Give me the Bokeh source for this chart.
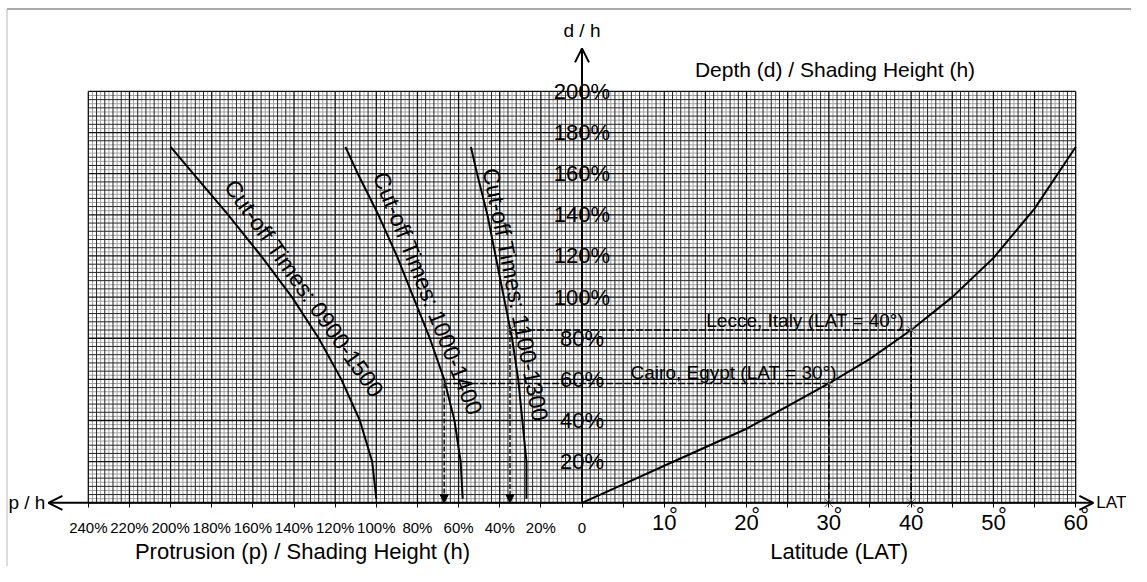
import numpy as np
from bokeh.plotting import figure
from bokeh.models import LinearAxis, FixedTicker, Arrow, OpenHead, NormalHead
from bokeh.core.properties import value
from bokeh.embed import file_html
from bokeh.resources import INLINE

# ---------------- data ----------------
lat_deg = [0, 5, 10, 15, 20, 25, 30, 35, 40, 45, 50, 55, 60]
lat_dh = [0, 9, 18, 27, 36, 47, 58, 70, 84, 100, 119, 143, 173]          # d/h in %

cut_dh = [2, 20, 40, 60, 80, 100, 120, 140, 160, 173]                   # d/h in %
cut_0900_1500 = [100, 102, 108, 117, 128, 141, 156, 172, 189, 200]      # p/h in %
cut_1000_1400 = [58, 59, 62, 67, 74, 82, 90, 99, 109, 115]
cut_1100_1300 = [27, 27, 29, 31, 34, 38, 42, 46, 51, 54]
cut_names = ["Cut-off Times: 0900-1500", "Cut-off Times: 1000-1400", "Cut-off Times: 1100-1300"]

ph_ticks = [240, 220, 200, 180, 160, 140, 120, 100, 80, 60, 40, 20, 0]
ph_labels = ["240%", "220%", "200%", "180%", "160%", "140%", "120%", "100%",
             "80%", "60%", "40%", "20%", "0"]
dh_ticks = [20, 40, 60, 80, 100, 120, 140, 160, 180, 200]
dh_labels = ["20%", "40%", "60%", "80%", "100%", "120%", "140%", "160%", "180%", "200%"]
lat_ticks = [5, 10, 15, 20, 25, 30, 35, 40, 45, 50, 55, 60]
lat_labels = ["", "10", "", "20", "", "30", "", "40", "", "50", "", "60"]

cities = ["Lecce, Italy (LAT = 40°)", "Cairo, Egypt (LAT = 30°)"]
city_lat = [40, 30]
city_dh = [84, 58]
city_ph = [35, 67]

# ---------------- layout ----------------
LAT_UNIT = 4.0            # one degree of latitude drawn as 4 % units
W, H = 1131, 566
S = 2.057                 # px per unit
X0 = -581.5 / S
X1 = X0 + W / S
Y1 = 502.3 / S
Y0 = Y1 - H / S

FONT = "Liberation Sans"

p = figure(width=W, height=H, x_range=(X0, X1), y_range=(Y0, Y1),
           x_axis_type=None, y_axis_type=None, toolbar_location=None,
           output_backend="svg", min_border=0, outline_line_color=None,
           background_fill_color="white", border_fill_color="white")

# picture edge lines (top and left)
ty = Y1 - 8.5 / S
lx = X0 + 6.5 / S
p.segment(x0=[lx], y0=[ty], x1=[X1], y1=[ty], line_color="#555555", line_width=1)
p.segment(x0=[lx], y0=[Y0], x1=[lx], y1=[ty], line_color="#b8b8b8", line_width=1)

# ---------------- grid ----------------
xmin, xmax = -max(ph_ticks), LAT_UNIT * max(lat_deg)
ymin, ymax = 0, max(dh_ticks)
gx = np.arange(xmin, xmax + 1, 2)
gy = np.arange(ymin, ymax + 1, 2)
styles = [(lambda v: (v % 4 != 0), "#a0a0a0", 1.0),
          (lambda v: (v % 4 == 0) & (v % 20 != 0), "#262626", 1.0),
          (lambda v: (v % 20 == 0), "#111111", 1.3)]
for cond, col, lw in styles:
    vx = gx[cond(gx)]
    p.segment(x0=vx, y0=ymin, x1=vx, y1=ymax, line_color=col, line_width=lw)
    vy = gy[cond(gy)]
    p.segment(x0=xmin, y0=vy, x1=xmax, y1=vy, line_color=col, line_width=lw)

# ---------------- curves ----------------
p.line(np.array(lat_deg) * LAT_UNIT, lat_dh, line_color="black", line_width=2)
cut_series = [cut_0900_1500, cut_1000_1400, cut_1100_1300]
label_dh = [100, 99, 100]
label_off = [15, 15, 12]
for vals, name, ldh, lo in zip(cut_series, cut_names, label_dh, label_off):
    xs = -np.array(vals, dtype=float)
    p.line(xs, cut_dh, line_color="black", line_width=2)
    # label along the curve
    xa = np.interp(ldh - 20, cut_dh, xs)
    xb = np.interp(ldh + 20, cut_dh, xs)
    ang = np.arctan2(40.0, xb - xa)          # direction of increasing d/h
    theta = ang - np.pi                       # read downward along the curve
    ux, uy = -np.sin(theta), np.cos(theta)    # text up-vector
    xc = np.interp(ldh, cut_dh, xs)
    off = lo / S
    p.text(x=[xc + ux * off], y=[ldh + uy * off], text=[name], angle=theta,
           text_font=value(FONT), text_font_size="23px", text_color="black",
           text_align="center", text_baseline="middle")

# ---------------- leader lines ----------------
mx, my = [], []
for name, lat, dh, ph in zip(cities, city_lat, city_dh, city_ph):
    xr = lat * LAT_UNIT
    p.segment(x0=[-ph], y0=[dh], x1=[xr], y1=[dh], line_color="black", line_width=1.5, line_dash="7 2")
    p.segment(x0=[xr], y0=[dh], x1=[xr], y1=[0], line_color="black", line_width=1.5, line_dash="7 2")
    p.add_layout(Arrow(x_start=-ph, y_start=dh, x_end=-ph, y_end=0, line_color="black",
                       line_width=1.4, line_dash="5 2",
                       end=NormalHead(size=8, fill_color="black", line_color="black", line_width=1)))
    mx += [-ph, xr, xr]
    my += [dh, dh, 0]
p.scatter(mx, my, marker="x", size=12, line_color="#666666", line_width=1)

p.text(x=[city_lat[0] * LAT_UNIT], y=[city_dh[0]], text=[cities[0]], x_offset=-7, y_offset=-10,
       text_font=value(FONT), text_font_size="19px", text_align="right", text_baseline="middle")
p.text(x=[city_lat[1] * LAT_UNIT], y=[city_dh[1]], text=[cities[1]], x_offset=8, y_offset=-11,
       text_font=value(FONT), text_font_size="19px", text_align="right", text_baseline="middle")

# ---------------- axes ----------------
ax_left = LinearAxis(fixed_location=0, ticker=FixedTicker(ticks=[-t for t in ph_ticks]),
                     major_label_overrides={-t: l for t, l in zip(ph_ticks, ph_labels)},
                     axis_line_color=None, major_tick_in=0, major_tick_out=5,
                     major_tick_line_color="black", minor_tick_line_color=None,
                     major_label_standoff=11, major_label_text_font=FONT,
                     major_label_text_font_size="15px", major_label_text_color="black")
p.add_layout(ax_left, "below")

ax_right = LinearAxis(fixed_location=0, ticker=FixedTicker(ticks=[t * LAT_UNIT for t in lat_ticks]),
                      major_label_overrides={t * LAT_UNIT: l for t, l in zip(lat_ticks, lat_labels)},
                      axis_line_color=None, major_tick_in=0, major_tick_out=5,
                      major_tick_line_color="black", minor_tick_line_color=None,
                      major_label_standoff=7, major_label_text_font=FONT,
                      major_label_text_font_size="22px", major_label_text_color="black")
p.add_layout(ax_right, "below")

deg_x = [t * LAT_UNIT for t, l in zip(lat_ticks, lat_labels) if l]
p.text(x=deg_x, y=[-9.6] * len(deg_x), text=["°"] * len(deg_x), x_offset=9, y_offset=-7,
       text_font=value(FONT), text_font_size="22px", text_align="center", text_baseline="alphabetic")

# vertical-axis tick labels, centred on the axis line
p.text(x=[0] * len(dh_ticks), y=dh_ticks, text=dh_labels, text_font=value(FONT),
       text_font_size="22px", text_align="center", text_baseline="middle", text_color="black")

# axis lines with arrow heads
left_tip, right_tip, top_tip = -259.4, 248.6, 220.9
for xe in [left_tip, right_tip]:
    p.add_layout(Arrow(x_start=0, y_start=0, x_end=xe, y_end=0, line_color="black", line_width=2,
                       end=OpenHead(size=14, line_color="black", line_width=2)))
p.add_layout(Arrow(x_start=0, y_start=0, x_end=0, y_end=top_tip, line_color="black", line_width=2,
                   end=OpenHead(size=14, line_color="black", line_width=2)))

# axis names
p.text(x=[left_tip], y=[0], text=["p / h"], x_offset=-3, text_font=value(FONT), text_font_size="19px",
       text_align="right", text_baseline="middle")
p.text(x=[right_tip], y=[0], text=["LAT"], x_offset=3, text_font=value(FONT), text_font_size="17px",
       text_align="left", text_baseline="middle")
p.text(x=[0], y=[229.6], text=["d / h"], text_font=value(FONT), text_font_size="19px",
       text_align="center", text_baseline="middle")
p.text(x=[123], y=[210.6], text=["Depth (d) / Shading Height (h)"], text_font=value(FONT),
       text_font_size="21px", text_align="center", text_baseline="middle")
title_y = -23.8
p.text(x=[-135.9], y=[title_y], text=["Protrusion (p) / Shading Height (h)"], text_font=value(FONT),
       text_font_size="22px", text_align="center", text_baseline="middle")
p.text(x=[125], y=[title_y], text=["Latitude (LAT)"], text_font=value(FONT),
       text_font_size="22px", text_align="center", text_baseline="middle")

open("out.html", "w").write(file_html(p, INLINE))
